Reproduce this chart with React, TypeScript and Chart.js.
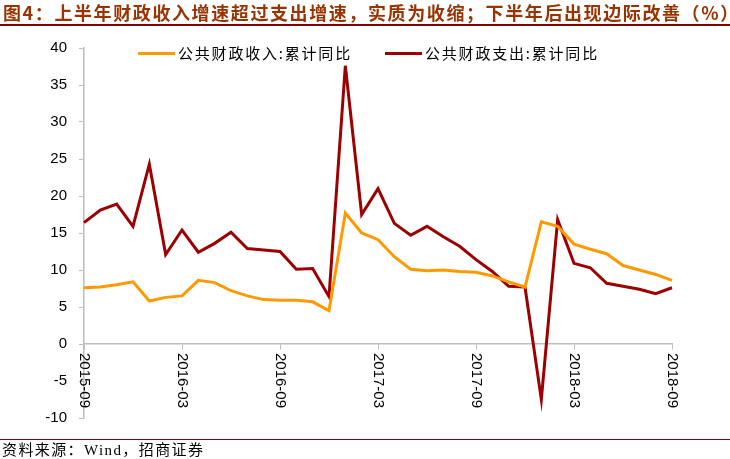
import React, { useEffect, useRef } from 'react';
import { Chart, registerables } from 'chart.js';

Chart.register(...registerables);

const labels = [
  '2015-09', '2015-10', '2015-11', '2015-12',
  '2016-01', '2016-02', '2016-03', '2016-04', '2016-05', '2016-06',
  '2016-07', '2016-08', '2016-09', '2016-10', '2016-11', '2016-12',
  '2017-01', '2017-02', '2017-03', '2017-04', '2017-05', '2017-06',
  '2017-07', '2017-08', '2017-09', '2017-10', '2017-11', '2017-12',
  '2018-01', '2018-02', '2018-03', '2018-04', '2018-05', '2018-06',
  '2018-07', '2018-08', '2018-09',
];

const revenue = [
  7.6, 7.7, 8.0, 8.4,
  5.8, 6.3, 6.5, 8.6, 8.3, 7.2, 6.5, 6.0, 5.9, 5.9, 5.7, 4.5,
  17.7, 15.0, 14.1, 11.8, 10.1, 9.9, 10.0, 9.8, 9.7, 9.2, 8.4, 7.7,
  16.5, 15.9, 13.5, 12.8, 12.2, 10.6, 10.0, 9.4, 8.6,
];

const expenditure = [
  16.4, 18.1, 18.9, 15.9,
  24.3, 12.1, 15.4, 12.4, 13.6, 15.1, 12.9, 12.7, 12.5, 10.1, 10.2, 6.4,
  37.6, 17.5, 21.0, 16.3, 14.7, 15.9, 14.5, 13.2, 11.4, 9.8, 7.8, 7.7,
  -7.5, 16.8, 10.9, 10.3, 8.2, 7.8, 7.4, 6.8, 7.6,
];

const seriesNames = ['公共财政收入:累计同比', '公共财政支出:累计同比'];
const seriesColors = ['#FF9900', '#9C0000'];

const titleText = '图4：上半年财政收入增速超过支出增速，实质为收缩；下半年后出现边际改善（%）';
const sourceText = '资料来源：Wind，招商证券';

const AXIS_GREY = '#BDBDBD';
const LABEL_EVERY = 6;

const customPlugin = {
  id: 'customDecor',
  afterDraw(chart: any) {
    const ctx = chart.ctx as CanvasRenderingContext2D;
    const xs = chart.scales.x;
    const ys = chart.scales.y;
    const area = chart.chartArea;
    const y0 = ys.getPixelForValue(0);
    ctx.save();
    // rotated x labels (clockwise)
    ctx.font = '15px "Liberation Sans", Arial, sans-serif';
    ctx.fillStyle = '#000';
    ctx.textAlign = 'left';
    ctx.textBaseline = 'middle';
    labels.forEach((l, i) => {
      if (i % LABEL_EVERY !== 0) return;
      const px = xs.getPixelForValue(i);
      ctx.save();
      ctx.translate(px + 0.5, y0 + 9);
      ctx.rotate(Math.PI / 2);
      ctx.fillText(l, 0, 0);
      ctx.restore();
    });
    // legend
    const legendY = area.top + 5.5;
    const starts = [area.left + 54, area.left + 301];
    ctx.font = '15px "Noto Sans CJK SC", sans-serif';
    (ctx as any).letterSpacing = '1.8px';
    chart.data.datasets.forEach((ds: any, i: number) => {
      const sx = starts[i];
      ctx.strokeStyle = ds.borderColor;
      ctx.lineWidth = 3;
      ctx.beginPath();
      ctx.moveTo(sx, legendY);
      ctx.lineTo(sx + 37, legendY);
      ctx.stroke();
      ctx.fillStyle = '#000';
      ctx.textBaseline = 'middle';
      ctx.fillText(ds.label, sx + 40, legendY);
    });
    ctx.restore();
  },
};

export default function App() {
  const canvasRef = useRef<HTMLCanvasElement | null>(null);

  useEffect(() => {
    if (!canvasRef.current) return;
    const chart = new Chart(canvasRef.current, {
      type: 'line',
      data: {
        labels,
        datasets: [
          {
            label: seriesNames[0],
            data: revenue,
            borderColor: seriesColors[0],
            backgroundColor: seriesColors[0],
            borderWidth: 3,
            pointRadius: 0,
            tension: 0,
            fill: false,
          },
          {
            label: seriesNames[1],
            data: expenditure,
            borderColor: seriesColors[1],
            backgroundColor: seriesColors[1],
            borderWidth: 3,
            pointRadius: 0,
            tension: 0,
            fill: false,
          },
        ],
      },
      options: {
        responsive: false,
        animation: false,
        layout: { padding: { top: 48, left: 0, right: 58, bottom: 41 } },
        plugins: {
          legend: { display: false },
          tooltip: { enabled: false },
          title: { display: false },
        },
        scales: {
          x: {
            type: 'category',
            position: { y: 0 } as any,
            offset: false,
            ticks: { display: false, autoSkip: false },
            grid: {
              drawOnChartArea: false,
              drawTicks: true,
              tickLength: 5,
              lineWidth: 1,
              color: (c: any) => (c.index % LABEL_EVERY === 0 ? AXIS_GREY : 'rgba(0,0,0,0)'),
            },
            border: { display: true, color: AXIS_GREY, width: 1.5 },
          },
          y: {
            min: -10,
            max: 40,
            ticks: {
              stepSize: 5,
              color: '#000',
              padding: 12,
              font: { family: '"Liberation Sans", Arial, sans-serif', size: 15 },
            },
            grid: {
              drawOnChartArea: false,
              drawTicks: true,
              tickLength: 5,
              lineWidth: 1,
              color: AXIS_GREY,
            },
            border: { display: true, color: AXIS_GREY, width: 1.5 },
            afterFit: (scale: any) => {
              scale.width = 84;
            },
          },
        },
      },
      plugins: [customPlugin],
    });
    return () => chart.destroy();
  }, []);

  return (
    <div style={{ position: 'absolute', left: 0, top: 0, width: 730, height: 459, background: '#fff', overflow: 'hidden' }}>
      <canvas ref={canvasRef} width={730} height={459} style={{ position: 'absolute', left: 0, top: 0, display: 'block' }} />
      <div
        style={{
          position: 'absolute', left: 3, top: 1, whiteSpace: 'nowrap',
          font: 'bold 18px "Noto Sans CJK SC", sans-serif', lineHeight: '22px',
          letterSpacing: '1.6px', color: '#993300',
        }}
      >
        {titleText}
      </div>
      <div style={{ position: 'absolute', left: 0, top: 24, width: 730, height: 2, background: '#7F0000' }} />
      <div style={{ position: 'absolute', left: 0, top: 438.5, width: 730, height: 1.5, background: '#7F0000' }} />
      <div
        style={{
          position: 'absolute', left: 2, top: 441, whiteSpace: 'nowrap',
          font: '15px "Liberation Serif", "Noto Sans CJK SC", serif', lineHeight: '18px', color: '#000',
          letterSpacing: '1.4px',
        }}
      >
        {sourceText}
      </div>
    </div>
  );
}
